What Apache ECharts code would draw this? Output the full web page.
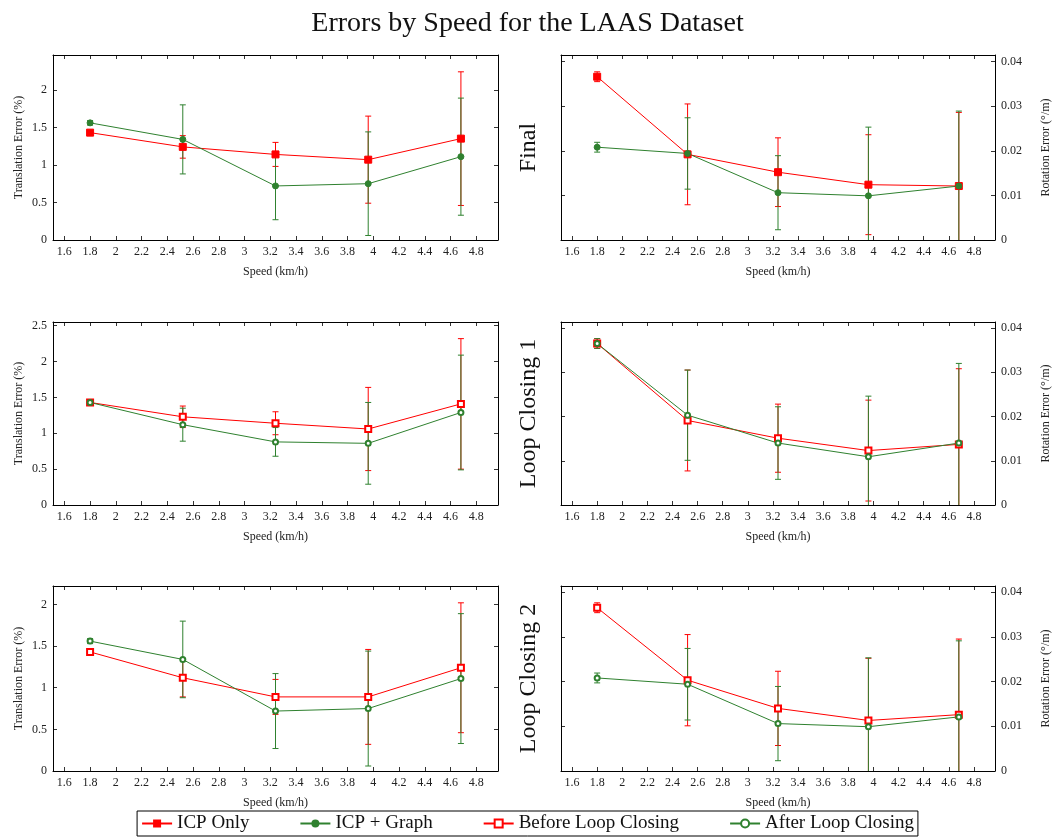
<!DOCTYPE html>
<html>
<head>
<meta charset="utf-8">
<title>Errors by Speed for the LAAS Dataset</title>
<script src="https://cdn.jsdelivr.net/npm/echarts@6.0.0/dist/echarts.min.js"></script>
<style>
  html, body { margin: 0; padding: 0; background: #fff; }
  #chart { width: 1055px; height: 838px; }
</style>
</head>
<body>
<div id="chart"></div>
<script>
// speeds (km/h), same for every panel
const speeds = [1.8, 2.52, 3.24, 3.96, 4.68];
const xTicks = [1.6, 1.8, 2, 2.2, 2.4, 2.6, 2.8, 3, 3.2, 3.4, 3.6, 3.8, 4, 4.2, 4.4, 4.6, 4.8];
const transTicks = [0, 0.5, 1, 1.5, 2, 2.5];
const rotTicks = [0, 0.01, 0.02, 0.03, 0.04];

// Final
const finalTransIcp = [1.43, 1.24, 1.14, 1.07, 1.35];
const finalTransIcpErr = [0.03, 0.15, 0.16, 0.58, 0.89];
const finalTransGraph = [1.56, 1.34, 0.72, 0.75, 1.11];
const finalTransGraphErr = [0.03, 0.46, 0.45, 0.69, 0.78];
const finalRotIcp = [0.0366, 0.0192, 0.0152, 0.0124, 0.0121];
const finalRotIcpErr = [0.0011, 0.0113, 0.0077, 0.0112, 0.0165];
const finalRotGraph = [0.0208, 0.0194, 0.0106, 0.0099, 0.0121];
const finalRotGraphErr = [0.0011, 0.0080, 0.0083, 0.0154, 0.0168];

// Loop Closing 1
const lc1TransBefore = [1.43, 1.23, 1.14, 1.06, 1.41];
const lc1TransBeforeErr = [0.02, 0.15, 0.16, 0.58, 0.91];
const lc1TransAfter = [1.43, 1.12, 0.88, 0.86, 1.29];
const lc1TransAfterErr = [0.02, 0.23, 0.20, 0.57, 0.80];
const lc1RotBefore = [0.0365, 0.0191, 0.0151, 0.0123, 0.0137];
const lc1RotBeforeErr = [0.0011, 0.0114, 0.0077, 0.0114, 0.0171];
const lc1RotAfter = [0.0365, 0.0203, 0.0140, 0.0109, 0.0140];
const lc1RotAfterErr = [0.0011, 0.0102, 0.0082, 0.0137, 0.0180];

// Loop Closing 2
const lc2TransBefore = [1.43, 1.12, 0.89, 0.89, 1.24];
const lc2TransBeforeErr = [0.03, 0.23, 0.21, 0.57, 0.78];
const lc2TransAfter = [1.56, 1.34, 0.72, 0.75, 1.11];
const lc2TransAfterErr = [0.03, 0.46, 0.45, 0.69, 0.78];
const lc2RotBefore = [0.0365, 0.0203, 0.0140, 0.0113, 0.0126];
const lc2RotBeforeErr = [0.0011, 0.0102, 0.0083, 0.0139, 0.0169];
const lc2RotAfter = [0.0208, 0.0194, 0.0106, 0.0099, 0.0121];
const lc2RotAfterErr = [0.0011, 0.0080, 0.0083, 0.0154, 0.0170];

const RED = '#ff0000';
const GREEN = '#2f812f';
const FONT = 'Liberation Serif';

// pgfplots style: enlarge limits by 10%
const xSpan = speeds[speeds.length - 1] - speeds[0];
const xMin = speeds[0] - 0.1 * xSpan;
const xMax = speeds[speeds.length - 1] + 0.1 * xSpan;

function yTop(pairs) {
  let m = 0;
  pairs.forEach(p => p[0].forEach((v, i) => { m = Math.max(m, v + p[1][i]); }));
  return m * 1.1;
}

const panels = [
  { grid: { left: 53, top: 55, width: 445, height: 185 }, rot: false, row: '',
    a: ['ICP Only', finalTransIcp, finalTransIcpErr], b: ['ICP + Graph', finalTransGraph, finalTransGraphErr] },
  { grid: { left: 561, top: 55, width: 434, height: 185 }, rot: true, row: 'Final',
    a: ['ICP Only', finalRotIcp, finalRotIcpErr], b: ['ICP + Graph', finalRotGraph, finalRotGraphErr] },
  { grid: { left: 53, top: 322, width: 445, height: 183 }, rot: false, row: '',
    a: ['Before Loop Closing', lc1TransBefore, lc1TransBeforeErr], b: ['After Loop Closing', lc1TransAfter, lc1TransAfterErr] },
  { grid: { left: 561, top: 322, width: 434, height: 183 }, rot: true, row: 'Loop Closing 1',
    a: ['Before Loop Closing', lc1RotBefore, lc1RotBeforeErr], b: ['After Loop Closing', lc1RotAfter, lc1RotAfterErr] },
  { grid: { left: 53, top: 586, width: 445, height: 185 }, rot: false, row: '',
    a: ['Before Loop Closing', lc2TransBefore, lc2TransBeforeErr], b: ['After Loop Closing', lc2TransAfter, lc2TransAfterErr] },
  { grid: { left: 561, top: 586, width: 434, height: 185 }, rot: true, row: 'Loop Closing 2',
    a: ['Before Loop Closing', lc2RotBefore, lc2RotBeforeErr], b: ['After Loop Closing', lc2RotAfter, lc2RotAfterErr] }
];

const symbols = {
  'ICP Only': ['rect', 7], 'ICP + Graph': ['circle', 6],
  'Before Loop Closing': ['emptyRect', 6], 'After Loop Closing': ['emptyCircle', 5]
};

function errRender(color) {
  return function (params, api) {
    const x = api.value(0);
    const lo = api.coord([x, api.value(1)]);
    const hi = api.coord([x, api.value(2)]);
    const w = 3;
    return {
      type: 'group',
      children: [
        { type: 'line', shape: { x1: hi[0], y1: hi[1], x2: lo[0], y2: lo[1] }, style: { stroke: color, lineWidth: 1 } },
        { type: 'line', shape: { x1: hi[0] - w, y1: hi[1], x2: hi[0] + w, y2: hi[1] }, style: { stroke: color, lineWidth: 1 } },
        { type: 'line', shape: { x1: lo[0] - w, y1: lo[1], x2: lo[0] + w, y2: lo[1] }, style: { stroke: color, lineWidth: 1 } }
      ]
    };
  };
}

const tickStyle = { show: true, inside: true, length: 4, lineStyle: { color: '#000', width: 0.8 } };
const lineStyle = { show: true, onZero: false, lineStyle: { color: '#000', width: 1 } };

const grids = [], xAxes = [], yAxes = [], series = [];
panels.forEach((p, i) => {
  grids.push(p.grid);
  const yMax = yTop([[p.a[1], p.a[2]], [p.b[1], p.b[2]]]);
  const yT = (p.rot ? rotTicks : transTicks).filter(v => v <= yMax);
  // bottom and mirrored top x axis
  xAxes.push({
    type: 'value', gridIndex: i, position: 'bottom', min: xMin, max: xMax,
    axisLine: lineStyle, splitLine: { show: false },
    axisTick: Object.assign({ customValues: xTicks }, tickStyle),
    axisLabel: { customValues: xTicks, color: '#222', fontFamily: FONT, fontSize: 12, margin: 6 },
    name: 'Speed (km/h)', nameLocation: 'middle', nameGap: 26,
    nameTextStyle: { color: '#222', fontFamily: FONT, fontSize: 12 }
  });
  xAxes.push({
    type: 'value', gridIndex: i, position: 'top', min: xMin, max: xMax,
    axisLine: lineStyle, splitLine: { show: false },
    axisTick: Object.assign({ customValues: xTicks }, tickStyle),
    axisLabel: { show: false }
  });
  // labelled y axis and mirror
  yAxes.push({
    type: 'value', gridIndex: i, position: p.rot ? 'right' : 'left', min: 0, max: yMax,
    axisLine: lineStyle, splitLine: { show: false },
    axisTick: Object.assign({ customValues: yT }, tickStyle),
    axisLabel: { customValues: yT, color: '#222', fontFamily: FONT, fontSize: 12, margin: 6 },
    name: p.rot ? 'Rotation Error (°/m)' : 'Translation Error (%)',
    nameLocation: 'middle', nameRotate: 90, nameGap: p.rot ? 45 : 28,
    nameTextStyle: { color: '#222', fontFamily: FONT, fontSize: 12 }
  });
  yAxes.push({
    type: 'value', gridIndex: i, position: p.rot ? 'left' : 'right', min: 0, max: yMax,
    axisLine: lineStyle, splitLine: { show: false },
    axisTick: Object.assign({ customValues: yT }, tickStyle),
    axisLabel: { show: false },
    name: p.row, nameLocation: 'middle', nameRotate: 90, nameGap: 20,
    nameTextStyle: { color: '#111', fontFamily: FONT, fontSize: 24 }
  });
  [[p.a, RED], [p.b, GREEN]].forEach(([s, color]) => {
    series.push({
      type: 'custom', xAxisIndex: 2 * i, yAxisIndex: 2 * i, clip: true, silent: true,
      renderItem: errRender(color),
      data: speeds.map((x, k) => [x, s[1][k] - s[2][k], s[1][k] + s[2][k]]),
      z: 2
    });
    series.push({
      type: 'line', name: s[0], xAxisIndex: 2 * i, yAxisIndex: 2 * i,
      data: speeds.map((x, k) => [x, s[1][k]]),
      symbol: symbols[s[0]][0], symbolSize: symbols[s[0]][1],
      color: color, lineStyle: { color: color, width: 1 },
      itemStyle: { color: color, borderColor: color }, animation: false, z: 3
    });
  });
});

const chart = echarts.init(document.getElementById('chart'));
chart.setOption({
  backgroundColor: '#fff',
  animation: false,
  title: {
    text: 'Errors by Speed for the LAAS Dataset', left: 'center', top: 5,
    textStyle: { fontFamily: FONT, fontSize: 28, fontWeight: 'normal', color: '#111' }
  },
  legend: {
    data: ['ICP Only', 'ICP + Graph', 'Before Loop Closing', 'After Loop Closing'],
    left: 'center', top: 811, itemGap: 50, itemWidth: 30, itemHeight: 10,
    borderColor: '#000', borderWidth: 1, padding: [3, 4],
    textStyle: { fontFamily: FONT, fontSize: 19, color: '#111' }
  },
  grid: grids,
  xAxis: xAxes,
  yAxis: yAxes,
  series: series
});
</script>
</body>
</html>
